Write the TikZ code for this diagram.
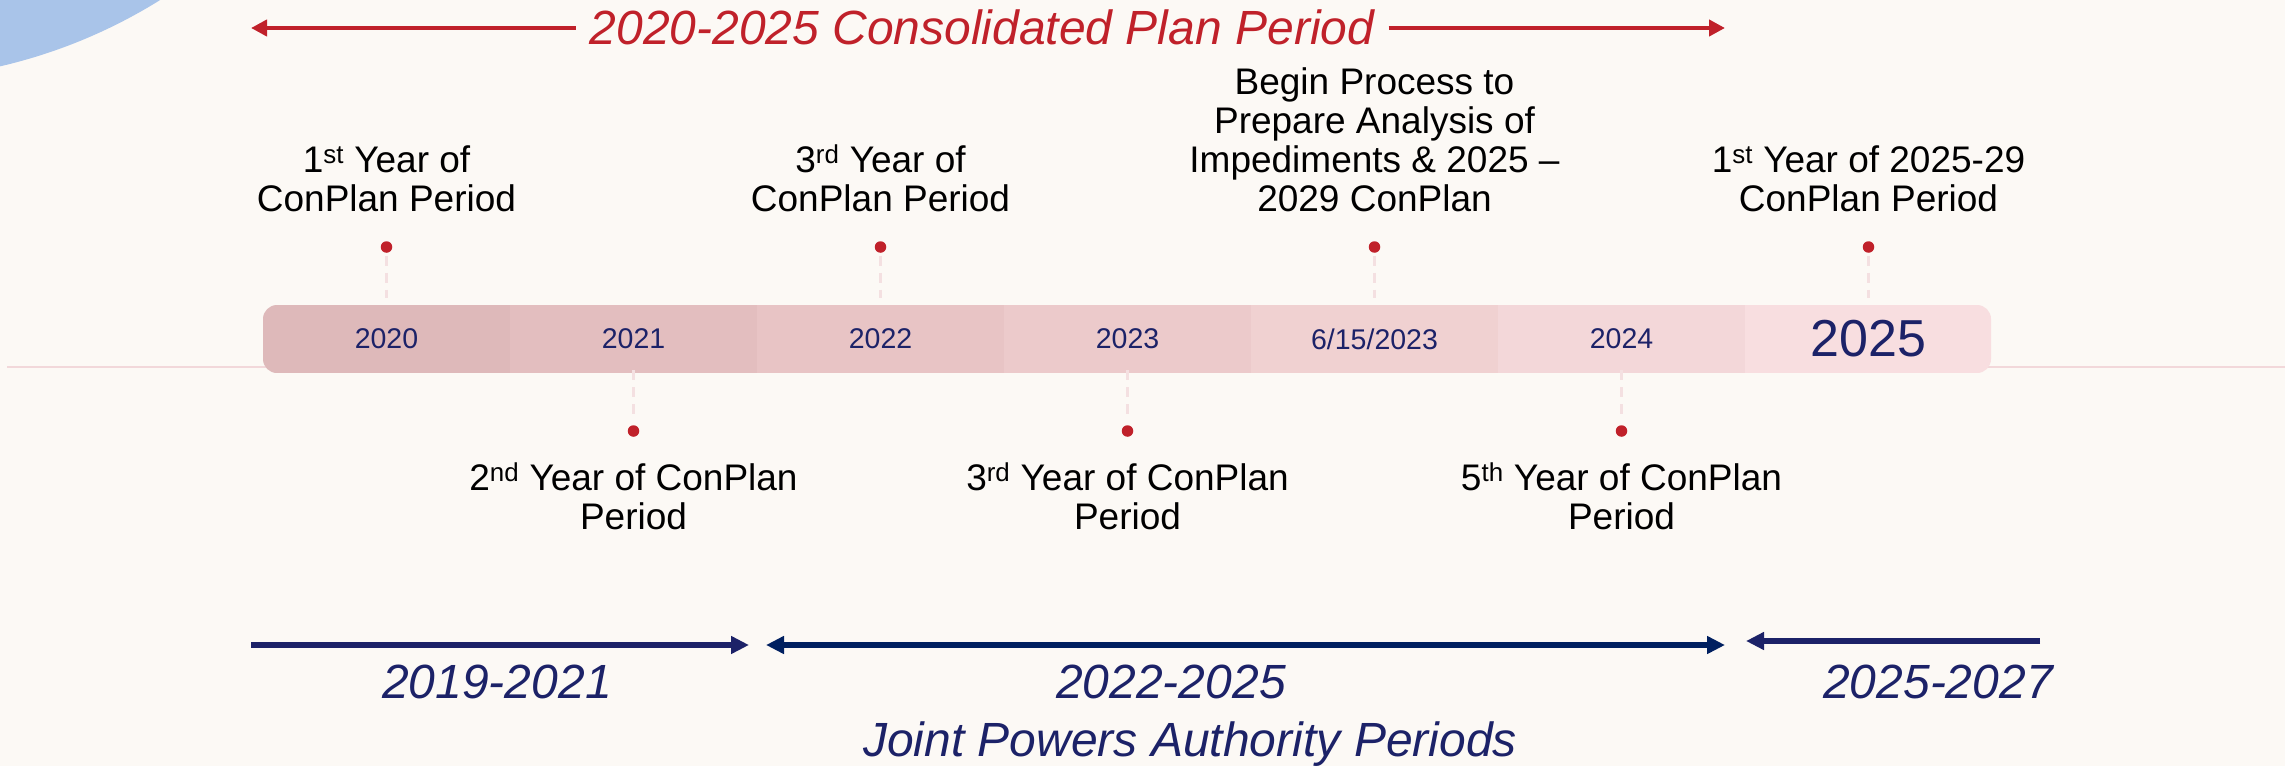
\documentclass[tikz,border=0pt]{standalone}
\usepackage{fontspec}
\setmainfont{Liberation Sans}
\usetikzlibrary{arrows.meta}
\definecolor{bg}{RGB}{252,249,245}
\definecolor{circ}{RGB}{169,196,233}
\definecolor{rd}{RGB}{192,33,42}
\definecolor{navy}{RGB}{28,34,104}
\definecolor{navyb}{RGB}{0,32,96}
\definecolor{ca}{RGB}{222,185,186}
\definecolor{cb}{RGB}{227,190,191}
\definecolor{cc}{RGB}{232,196,197}
\definecolor{cd}{RGB}{236,202,203}
\definecolor{ce}{RGB}{240,209,209}
\definecolor{cf}{RGB}{243,215,217}
\definecolor{cg}{RGB}{248,222,224}
\definecolor{connc}{RGB}{244,224,225}
\definecolor{axisc}{RGB}{242,216,218}
\begin{document}
\begin{tikzpicture}[x=1bp,y=-1bp,
  seg/.style={minimum width=248bp, minimum height=68bp, inner sep=0pt, text=navy,
    font=\fontsize{28.5bp}{30bp}\selectfont},
  dot/.style={circle, fill=rd, minimum size=11.5bp, inner sep=0pt},
  connline/.style={draw=connc, line width=2.5bp, dash pattern=on 10bp off 7bp},
  lbl/.style={font=\fontsize{37bp}{39bp}\selectfont, align=center, inner sep=0pt, anchor=base, text=black},
  btm/.style={font=\fontsize{48bp}{56bp}\selectfont\itshape, inner sep=0pt, anchor=base, text=navy},
  ttl/.style={font=\fontsize{48bp}{56bp}\selectfont\itshape, inner xsep=14bp, inner ysep=0pt, anchor=base, text=rd},
  redarrow/.style={draw=rd, line width=4.5bp, -{Triangle[length=16bp,width=16bp]}},
  bluearrow/.style={line width=6bp},
  tip/.tip={Triangle[length=18bp,width=17bp]}
]
\fill[bg] (0,0) rectangle (2285,766);
\useasboundingbox (0,0) rectangle (2285,766);
\begin{scope}
  \clip (0,0) rectangle (2285,766);
  \fill[circ] (-120,-450) circle (530bp);
\end{scope}

% axis line
\coordinate (axl) at (7,367);
\coordinate (axr) at (2285,367);
\draw[axisc, line width=2bp] (axl) -- (axr);

% bar
\begin{scope}
  \clip[rounded corners=14bp] (263,305) rectangle (1991,373);
  \node[seg, fill=ca] (s1) at (386.5,339) {2020};
  \node[seg, fill=cb] (s2) at (633.5,339) {2021};
  \node[seg, fill=cc] (s3) at (880.5,339) {2022};
  \node[seg, fill=cd] (s4) at (1127.5,339) {2023};
  \node[seg, fill=ce] (s5) at (1374.5,339) {6/15/2023};
  \node[seg, fill=cf] (s6) at (1621.5,339) {2024};
  \node[seg, fill=cg, font=\fontsize{52bp}{56bp}\selectfont] (s7) at (1868.5,339) {2025};
\end{scope}

% dots
\node[dot] (d1) at (386.5,247) {};
\node[dot] (d3) at (880.5,247) {};
\node[dot] (d5) at (1374.5,247) {};
\node[dot] (d7) at (1868.5,247) {};
\node[dot] (d2) at (633.5,431) {};
\node[dot] (d4) at (1127.5,431) {};
\node[dot] (d6) at (1621.5,431) {};

\draw[connline, shorten <=3bp, shorten >=7bp] (d1) -- (s1.north);
\draw[connline, shorten <=3bp, shorten >=7bp] (d3) -- (s3.north);
\draw[connline, shorten <=3bp, shorten >=7bp] (d5) -- (s5.north);
\draw[connline, shorten <=3bp, shorten >=7bp] (d7) -- (s7.north);
\draw[connline, shorten <=-3bp, shorten >=8bp] (s2.south) -- (d2);
\draw[connline, shorten <=-3bp, shorten >=8bp] (s4.south) -- (d4);
\draw[connline, shorten <=-3bp, shorten >=8bp] (s6.south) -- (d6);

% upper labels (anchor = baseline of last line)
\node[lbl] (l1) at (386.5,211) {1\textsuperscript{st} Year of\\ConPlan Period};
\node[lbl] (l3) at (880.5,211) {3\textsuperscript{rd} Year of\\ConPlan Period};
\node[lbl] (l5) at (1374.5,211) {Begin Process to\\Prepare Analysis of\\Impediments \& 2025 –\\2029 ConPlan};
\node[lbl] (l7) at (1868.5,211) {1\textsuperscript{st} Year of 2025-29\\ConPlan Period};
% lower labels
\node[lbl] (l2) at (633.5,529) {2\textsuperscript{nd} Year of ConPlan\\Period};
\node[lbl] (l4) at (1127.5,529) {3\textsuperscript{rd} Year of ConPlan\\Period};
\node[lbl] (l6) at (1621.5,529) {5\textsuperscript{th} Year of ConPlan\\Period};

% title and red arrow
\node[ttl] (t) at (982,45) {2020-2025 Consolidated Plan Period};
\coordinate (tl) at (251,28);
\coordinate (tr) at (1725,28);
\draw[redarrow] (t.west |- tl) -- (tl);
\draw[redarrow] (t.east |- tr) -- (tr);

% bottom arrows
\coordinate (a1s) at (251,645);
\coordinate (a1e) at (749,645);
\coordinate (a2s) at (766,645);
\coordinate (a2e) at (1725,645);
\coordinate (a3s) at (2040,641);
\coordinate (a3e) at (1746,641);
\draw[bluearrow, draw=navy, fill=navy, -tip] (a1s) -- (a1e);
\draw[bluearrow, draw=navyb, fill=navyb, tip-tip] (a2s) -- (a2e);
\draw[bluearrow, draw=navy, fill=navy, -tip] (a3s) -- (a3e);

% bottom texts
\node[btm] (p1) at (497,698) {2019-2021};
\node[btm] (p2) at (1171,698) {2022-2025};
\node[btm] (p3) at (1190,756) {Joint Powers Authority Periods};
\node[btm] (p4) at (1938,698) {2025-2027};
\end{tikzpicture}
\end{document}
